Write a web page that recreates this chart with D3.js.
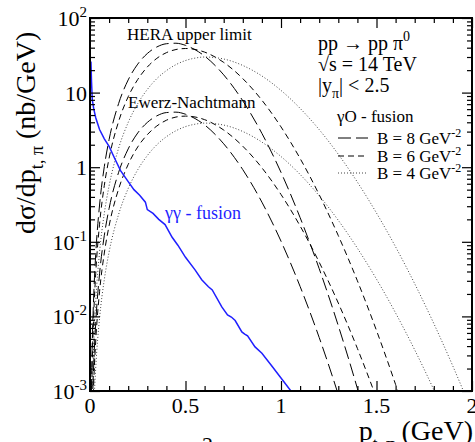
<!DOCTYPE html>
<html>
<head>
<meta charset="utf-8">
<script src="https://cdn.jsdelivr.net/npm/d3@7"></script>
<style>
  html, body { margin: 0; padding: 0; background: #fff; }
  svg { display: block; }
  svg text { font-family: "Liberation Serif", "Times New Roman", "DejaVu Serif", serif; }
</style>
</head>
<body>
<svg id="chart" width="475" height="442"></svg>
<script>
// transverse momentum grid (GeV) shared by the γO-fusion curves
const ptGrid = [0.005, 0.01, 0.02, 0.03, 0.05, 0.075, 0.1, 0.15, 0.2, 0.25, 0.3, 0.35, 0.4, 0.45, 0.5,
                0.55, 0.6, 0.7, 0.8, 0.9, 1.0, 1.1, 1.2, 1.3, 1.4, 1.5, 1.6, 1.7, 1.8, 1.9, 2.0];

// HERA upper limit (nb/GeV)
const heraB8 = [3.18e-4, 2.54e-3, 0.0203, 0.0681, 0.311, 1.02, 2.35, 7.16, 14.8, 24.1, 33.4, 40.9, 45.2, 45.9, 43.0,
                37.6, 30.9, 17.3, 7.76, 2.84, 0.853, 0.211, 0.0436, 0.0075, 1.08e-3, 1.3e-4];
const heraB6 = [1.75e-4, 1.40e-3, 0.0112, 0.0376, 0.172, 0.570, 1.32, 4.12, 8.81, 15.0, 22.0, 28.8, 34.3, 37.8, 39.0,
                37.9, 34.9, 25.4, 15.4, 7.91, 3.47, 1.31, 0.428, 0.121, 0.0300, 6.47e-3, 1.22e-3, 2.0e-4];
const heraB4 = [7.3e-5, 5.85e-4, 4.68e-3, 0.0157, 0.0724, 0.241, 0.562, 1.80, 3.98, 7.12, 11.0, 15.4, 19.7, 23.7, 26.9,
                29.0, 30.0, 28.2, 23.1, 16.7, 10.7, 6.15, 3.19, 1.49, 0.631, 0.243, 0.0855, 0.0274, 8.03e-3, 2.15e-3, 5.26e-4];

// Ewerz-Nachtmann (nb/GeV)
const enB8 = [3.8e-5, 3.0e-4, 2.43e-3, 8.13e-3, 0.0372, 0.122, 0.280, 0.855, 1.76, 2.88, 3.98, 4.88, 5.40, 5.47, 5.13,
              4.49, 3.69, 2.06, 0.927, 0.340, 0.102, 0.0252, 5.21e-3, 8.95e-4, 1.29e-4];
const enB6 = [2.17e-5, 1.74e-4, 1.39e-3, 4.67e-3, 0.0214, 0.0708, 0.164, 0.512, 1.09, 1.87, 2.73, 3.57, 4.26, 4.70, 4.84,
              4.71, 4.34, 3.15, 1.91, 0.982, 0.431, 0.163, 0.0532, 0.0151, 3.72e-3, 8.0e-4, 1.5e-4];
const enB4 = [9.5e-6, 7.6e-5, 6.08e-4, 2.04e-3, 9.42e-3, 0.0313, 0.0731, 0.234, 0.518, 0.925, 1.43, 2.00, 2.56, 3.08, 3.50,
              3.77, 3.90, 3.67, 3.01, 2.17, 1.39, 0.800, 0.414, 0.194, 0.0820, 0.0316, 0.0111, 3.56e-3, 1.04e-3, 2.8e-4];

// γγ-fusion Monte Carlo curve: p_t (GeV) and dσ/dp_t (nb/GeV)
const ggPt  = [0.005, 0.008, 0.012, 0.02, 0.03, 0.05, 0.075, 0.1, 0.13, 0.16, 0.2, 0.23, 0.26, 0.29, 0.30, 0.33, 0.36,
               0.393, 0.43, 0.46, 0.5, 0.55, 0.585, 0.62, 0.64, 0.69, 0.72, 0.74, 0.76, 0.795, 0.81, 0.825, 0.864,
               0.90, 0.95, 0.995, 1.052];
const ggVal = [26, 14, 8, 6.0, 4.6, 3.2, 2.4, 1.9, 1.3, 0.9, 0.64, 0.5, 0.42, 0.34, 0.27, 0.24, 0.2,
               0.17, 0.115, 0.09, 0.062, 0.042, 0.031, 0.025, 0.0226, 0.0134, 0.0105, 0.0098, 0.0088, 0.0062, 0.0058, 0.0055, 0.0039,
               0.0032, 0.0022, 0.00155, 0.001];

// axis ticks
const xTickValues = [0, 0.5, 1, 1.5, 2];
const xTickLabels = ["0", "0.5", "1", "1.5", "2"];
const yTickValues = [1e-3, 1e-2, 1e-1, 1, 10, 100];
const yTickBase   = ["10", "10", "10", "1", "10", "10"];
const yTickExp    = ["-3", "-2", "-1", "", "", "2"];

// legend
const legendLabels = ["B = 8 GeV", "B = 6 GeV", "B = 4 GeV"];
const legendExp = "-2";

const svg = d3.select("#chart");
const plotL = 90, plotR = 472, plotT = 18, plotB = 391;

const x = d3.scaleLinear().domain([0, 2]).range([plotL, plotR]);
const y = d3.scaleLog().domain([1e-3, 100]).range([plotB, plotT]);

const styles = {
  b8: { dash: "13,5", color: "#000", width: 1 },
  b6: { dash: "6,4", color: "#000", width: 1 },
  b4: { dash: "1,2", color: "#444", width: 1 }
};

svg.append("defs").append("clipPath").attr("id", "plotClip")
  .append("rect").attr("x", plotL).attr("y", plotT).attr("width", plotR - plotL).attr("height", plotB - plotT);

const plot = svg.append("g").attr("clip-path", "url(#plotClip)");

const smooth = d3.line().x(d => x(d[0])).y(d => y(d[1])).curve(d3.curveMonotoneX);
const jagged = d3.line().x(d => x(d[0])).y(d => y(d[1]));

const seriesList = [
  { vals: heraB8, s: styles.b8 }, { vals: heraB6, s: styles.b6 }, { vals: heraB4, s: styles.b4 },
  { vals: enB8, s: styles.b8 },   { vals: enB6, s: styles.b6 },   { vals: enB4, s: styles.b4 }
];
seriesList.forEach(c => {
  const pts = c.vals.map((v, i) => [ptGrid[i], v]);
  plot.append("path").attr("d", smooth(pts))
    .attr("fill", "none").attr("stroke", c.s.color).attr("stroke-width", c.s.width)
    .attr("stroke-dasharray", c.s.dash);
});

plot.append("path").attr("d", jagged(ggPt.map((p, i) => [p, ggVal[i]])))
  .attr("fill", "none").attr("stroke", "#1f1fff").attr("stroke-width", 1.5);

// ticks (inward on all four sides)
const yMinor = [];
for (let e = -3; e < 2; e++) for (let m = 2; m <= 9; m++) yMinor.push(m * Math.pow(10, e));
const xMinor = d3.range(0, 21).map(i => i / 10).filter(v => Math.abs(v * 2 - Math.round(v * 2)) > 1e-9);

function addAxis(axis, transform) {
  const g = svg.append("g").attr("transform", transform).call(axis);
  g.selectAll("text").remove();
  g.select(".domain").remove();
  g.selectAll("line").attr("stroke", "#000").attr("stroke-width", 1.2);
  return g;
}
addAxis(d3.axisLeft(y).tickValues(yTickValues).tickSize(-10), `translate(${plotL},0)`);
addAxis(d3.axisLeft(y).tickValues(yMinor).tickSize(-5), `translate(${plotL},0)`);
addAxis(d3.axisRight(y).tickValues(yTickValues).tickSize(-10), `translate(${plotR},0)`);
addAxis(d3.axisRight(y).tickValues(yMinor).tickSize(-5), `translate(${plotR},0)`);
addAxis(d3.axisBottom(x).tickValues(xTickValues).tickSize(-10), `translate(0,${plotB})`);
addAxis(d3.axisBottom(x).tickValues(xMinor).tickSize(-5), `translate(0,${plotB})`);
addAxis(d3.axisTop(x).tickValues(xTickValues).tickSize(-10), `translate(0,${plotT})`);
addAxis(d3.axisTop(x).tickValues(xMinor).tickSize(-5), `translate(0,${plotT})`);

svg.append("rect").attr("x", plotL).attr("y", plotT).attr("width", plotR - plotL).attr("height", plotB - plotT)
  .attr("fill", "none").attr("stroke", "#000").attr("stroke-width", 2);

// tick labels
yTickValues.forEach((v, i) => {
  const t = svg.append("text").attr("x", 87).attr("y", y(v) + 8)
    .attr("text-anchor", "end").attr("font-size", 22);
  t.append("tspan").text(yTickBase[i]);
  if (yTickExp[i]) t.append("tspan").attr("dy", -9).attr("font-size", 15).text(yTickExp[i]);
});
xTickValues.forEach((v, i) => {
  svg.append("text").attr("x", x(v)).attr("y", 413).attr("text-anchor", "middle")
    .attr("font-size", 22).text(xTickLabels[i]);
});

// axis titles
const yl = svg.append("text").attr("transform", "translate(35,234) rotate(-90)")
  .attr("font-size", 28);
yl.append("tspan").text("dσ/dp");
yl.append("tspan").attr("dy", 8).attr("font-size", 18).text("t, π");
yl.append("tspan").attr("dy", -8).text(" (nb/GeV)");

const xl = svg.append("text").attr("x", 473).attr("y", 440).attr("font-size", 28)
  .attr("text-anchor", "end");
xl.append("tspan").text("p");
xl.append("tspan").attr("dy", 9).attr("font-size", 17).text("t, π");
xl.append("tspan").attr("dy", -9).text(" (GeV)");

svg.append("text").attr("x", 202).attr("y", 452).attr("font-size", 22).text("2");

// curve annotations
svg.append("text").attr("x", 127).attr("y", 40).attr("font-size", 17).text("HERA upper limit");
svg.append("text").attr("x", 128).attr("y", 108).attr("font-size", 17).text("Ewerz-Nachtmann");
svg.append("text").attr("x", 165).attr("y", 219).attr("font-size", 18).attr("fill", "#1f1fff").text("γγ - fusion");

// process info
const p1 = svg.append("text").attr("x", 318).attr("y", 50).attr("font-size", 20);
p1.append("tspan").text("pp → pp π");
p1.append("tspan").attr("dy", -9).attr("font-size", 14).text("0");
svg.append("text").attr("x", 318).attr("y", 71).attr("font-size", 20).text("√s = 14 TeV");
const p3 = svg.append("text").attr("x", 318).attr("y", 92).attr("font-size", 20);
p3.append("tspan").text("|y");
p3.append("tspan").attr("dy", 6).attr("font-size", 14).text("π");
p3.append("tspan").attr("dy", -6).text("| < 2.5");

// legend
svg.append("text").attr("x", 337).attr("y", 122).attr("font-size", 17).text("γO - fusion");
const legendStyles = [styles.b8, styles.b6, styles.b4];
const legendY = [138, 156, 173];
legendLabels.forEach((lab, i) => {
  const s = legendStyles[i];
  svg.append("line").attr("x1", 338).attr("x2", 368).attr("y1", legendY[i]).attr("y2", legendY[i])
    .attr("stroke", s.color).attr("stroke-width", s.width).attr("stroke-dasharray", s.dash);
  const t = svg.append("text").attr("x", 377).attr("y", legendY[i] + 6).attr("font-size", 17);
  t.append("tspan").text(lab);
  t.append("tspan").attr("dy", -7).attr("font-size", 12).text(legendExp);
});
</script>
</body>
</html>
